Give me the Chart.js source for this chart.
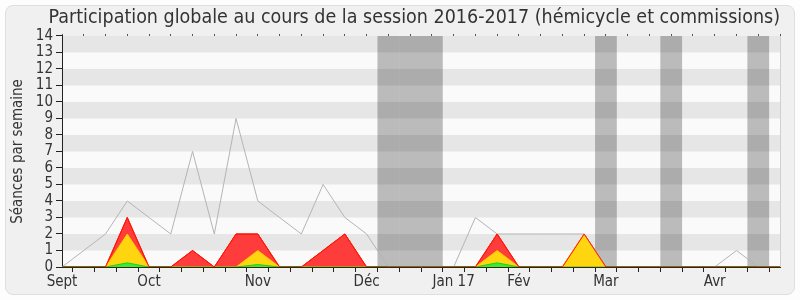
<!DOCTYPE html>
<html>
<head>
<meta charset="utf-8">
<script src="https://cdn.jsdelivr.net/npm/chart.js@4"></script>
<style>
  body { margin: 0; background: #fdfdfd; }
  #cadre { position: absolute; left: 5px; top: 5px; width: 788px; height: 288px;
           background: #f0f0f0; border: 1px solid #dedede; border-radius: 8px; }
  #zone { position: absolute; left: 0; top: 0; width: 800px; height: 300px; }
</style>
</head>
<body>
<div id="cadre"></div>
<div id="zone"><canvas id="grafico-participation" width="800" height="300"></canvas></div>
<script>
// une valeur par semaine, de septembre 2016 a avril 2017
const semaines = ['Sept', '', '', '', 'Oct', '', '', '', '', 'Nov', '', '', '', '', 'Déc', '', '', '',
    'Jan 17', '', '', 'Fév', '', '', '', 'Mar', '', '', '', '', 'Avr', '', '', ''];
const total     = [0, 1, 2, 4, 3, 2, 7, 2, 9, 4, 3, 2, 5, 3, 2, 0, 0, 0, 0, 3, 2, 2, 2, 2, 2, 0, 0, 0, 0, 0, 0, 1, 0, 0];
const rouge     = [0, 0, 0, 3, 0, 0, 1, 0, 2, 2, 0, 0, 1, 2, 0, 0, 0, 0, 0, 0, 2, 0, 0, 0, 2, 0, 0, 0, 0, 0, 0, 0, 0, 0];
const jaune     = [0, 0, 0, 2, 0, 0, 0, 0, 0, 1, 0, 0, 0, 0, 0, 0, 0, 0, 0, 0, 1, 0, 0, 0, 2, 0, 0, 0, 0, 0, 0, 0, 0, 0];
const vert      = [0, 0, 0, 0.25, 0, 0, 0, 0, 0, 0.15, 0, 0, 0, 0, 0, 0, 0, 0, 0, 0, 0.25, 0, 0, 0, 0, 0, 0, 0, 0, 0, 0, 0, 0, 0];
const vacances  = [null, null, null, null, null, null, null, null, null, null, null, null, null, null, null, 14, 14, 14,
    null, null, null, null, null, null, null, 14, null, null, 14, null, null, null, 14, null];
const ticksY = [0, 1, 2, 3, 4, 5, 6, 7, 8, 9, 10, 11, 12, 13, 14];

// fond raye : bandes horizontales alternees
const bandes = {
    id: 'bandes',
    beforeDraw(chart) {
        const { ctx, chartArea: a, scales: { y } } = chart;
        ctx.save();
        ctx.fillStyle = '#fafafa';
        ctx.fillRect(a.left, a.top, a.right - a.left, a.bottom - a.top);
        ctx.fillStyle = '#e6e6e6';
        for (let k = 1; k < 14; k += 2) {
            const y1 = y.getPixelForValue(k + 1), y0 = y.getPixelForValue(k);
            ctx.fillRect(a.left, y1, a.right - a.left, y0 - y1);
        }
        ctx.strokeStyle = '#d0d0d0';
        ctx.lineWidth = 1;
        ctx.beginPath();
        ctx.moveTo(a.right + 0.5, a.top);
        ctx.lineTo(a.right + 0.5, a.bottom);
        ctx.stroke();
        ctx.restore();
    }
};

// le trait rouge reste sombre sur la ligne de base
const traitRouge = {
    borderColor: c => (c.p0.parsed.y === 0 && c.p1.parsed.y === 0) ? '#5a1a00' : undefined
};

Chart.defaults.font.family = 'DejaVu Sans Condensed';
Chart.defaults.color = '#333';

const ctx = document.getElementById('grafico-participation').getContext('2d');
const grafico = new Chart(ctx, {
    type: 'line',
    data: {
        labels: semaines,
        datasets: [
            { data: rouge, borderColor: '#ff1a00', borderWidth: 1, fill: false, pointRadius: 0, order: -1, segment: traitRouge },
            { data: total, borderColor: '#b4b4b4', borderWidth: 1, fill: false, pointRadius: 0, order: 0 },
            { data: vert, borderColor: '#22cc22', backgroundColor: '#33ee33', borderWidth: 1, fill: 'origin', pointRadius: 0, order: 1 },
            { data: jaune, borderColor: '#ffc800', backgroundColor: '#ffd510', borderWidth: 1, fill: 'origin', pointRadius: 0, order: 2 },
            { data: rouge, borderColor: '#ff0000', backgroundColor: '#ff3c3c', borderWidth: 1, fill: 'origin', pointRadius: 0, order: 3, segment: traitRouge },
            { type: 'bar', data: vacances, backgroundColor: 'rgba(0,0,0,0.25)', barPercentage: 1, categoryPercentage: 1,
              inflateAmount: 0, borderWidth: 0, order: 10 }
        ]
    },
    options: {
        responsive: false,
        animation: false,
        layout: { padding: { left: 8, right: 20, top: 0, bottom: 8 } },
        plugins: {
            legend: { display: false },
            tooltip: { enabled: false },
            title: {
                display: true,
                text: 'Participation globale au cours de la session 2016-2017 (hémicycle et commissions)',
                align: 'end',
                color: '#333',
                font: { size: 19.5, weight: 'normal', lineHeight: 1.1 },
                padding: { top: 7, bottom: 7.5 }
            }
        },
        scales: {
            x: {
                offset: false,
                grid: { drawOnChartArea: false, tickLength: 5, color: '#222' },
                border: { color: '#4a1e00', width: 1 },
                ticks: { autoSkip: false, maxRotation: 0, padding: 1, font: { size: 15 } },
                afterFit(s) { s.height = 25; }
            },
            xHaut: {
                type: 'category',
                position: 'top',
                offset: false,
                grid: { drawOnChartArea: false, tickLength: 2, color: '#555' },
                border: { display: false },
                ticks: { display: false },
                afterFit(s) { s.height = 0; }
            },
            y: {
                min: 0,
                max: 14,
                afterBuildTicks(s) { s.ticks = ticksY.map(v => ({ value: v })); },
                grid: { drawOnChartArea: false, tickLength: 6, color: '#222' },
                border: { color: '#222', width: 1 },
                ticks: { autoSkip: false, padding: 3, font: { size: 15 } },
                title: { display: true, text: 'Séances par semaine', font: { size: 15 }, padding: { top: 1, bottom: 0 } },
                afterFit(s) { s.width = 54; }
            }
        }
    },
    plugins: [bandes]
});
</script>
</body>
</html>
